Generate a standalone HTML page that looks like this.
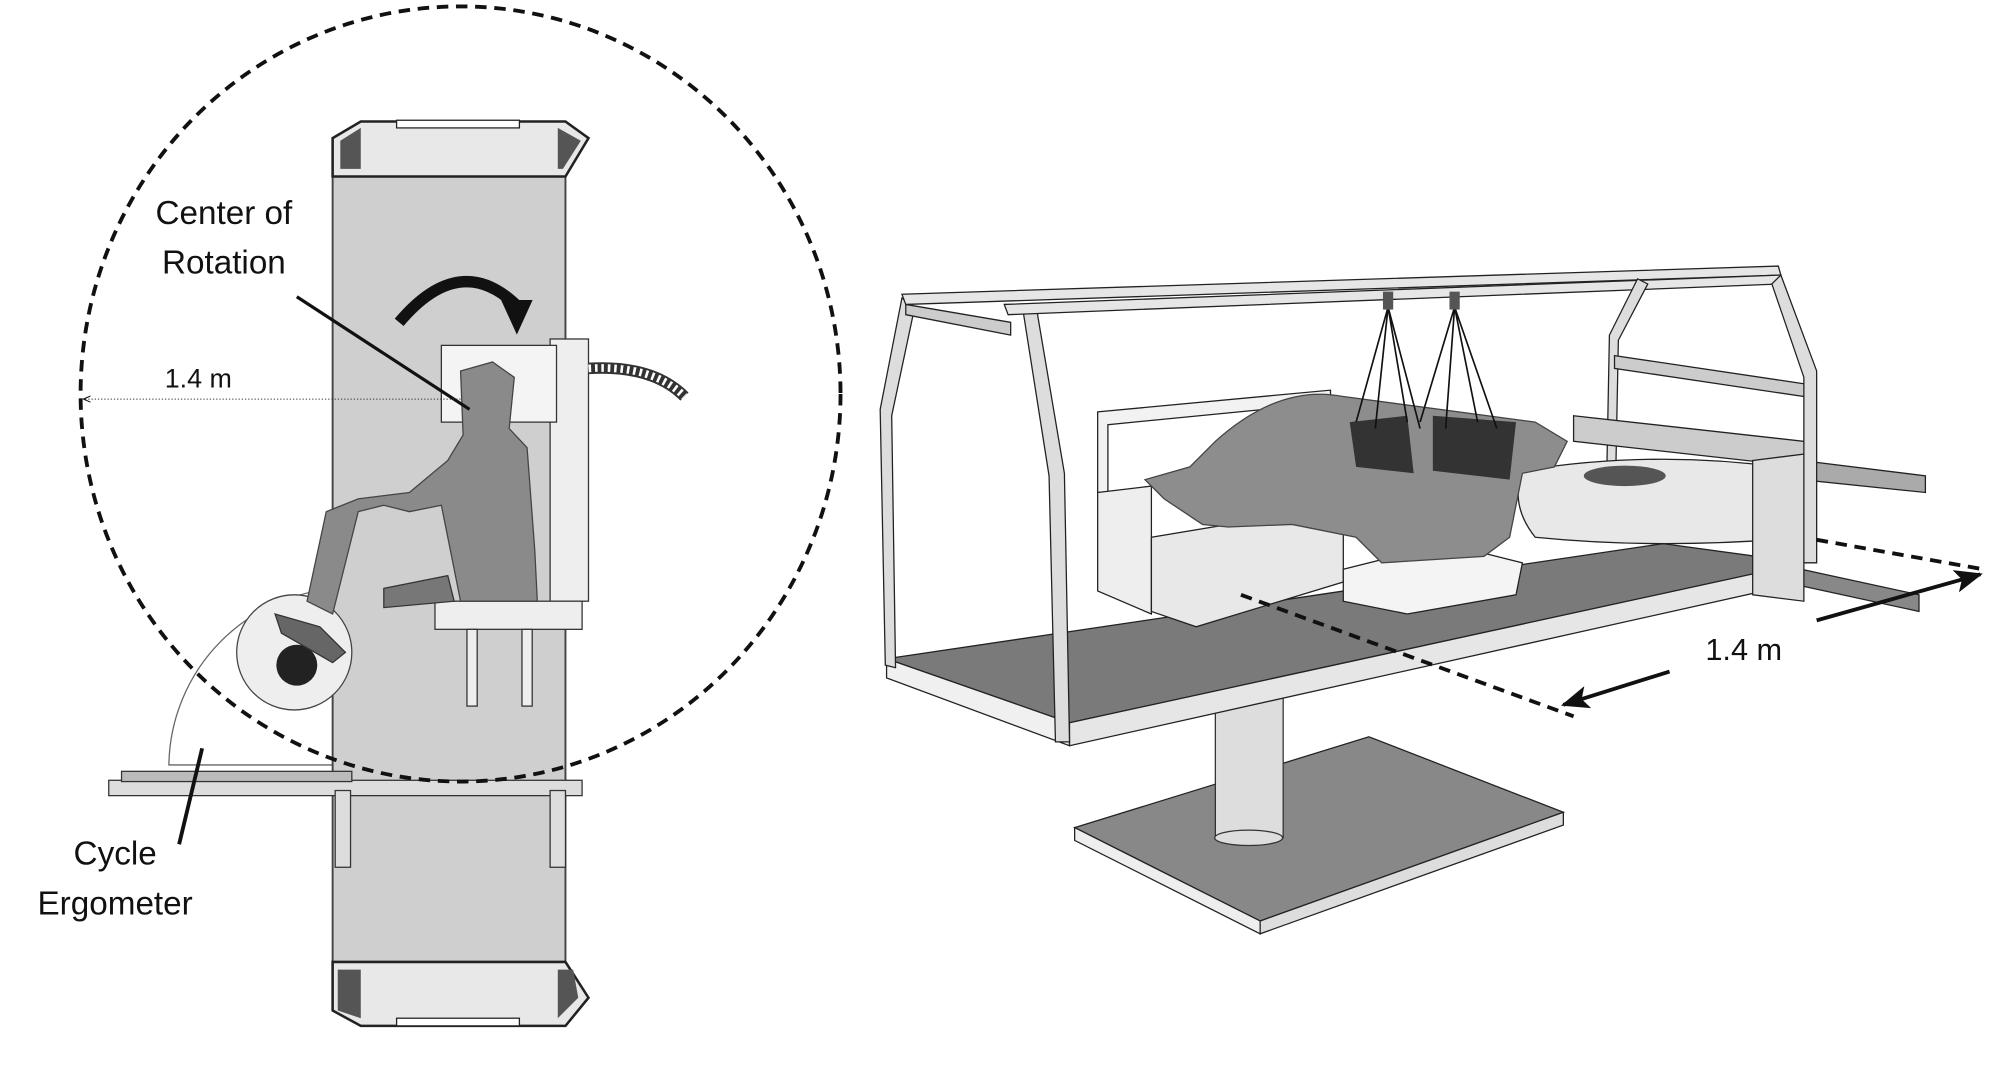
<!DOCTYPE html>
<html><head><meta charset="utf-8"><style>
html,body{margin:0;padding:0;background:#fff;}
svg{display:block}
text{font-family:"Liberation Sans","DejaVu Sans",sans-serif;fill:#111}
</style></head><body>
<svg width="2006" height="1086" viewBox="0 0 1568 849" preserveAspectRatio="none" xmlns="http://www.w3.org/2000/svg">
<defs>
<marker id="ah" markerUnits="userSpaceOnUse" markerWidth="22" markerHeight="18" refX="20" refY="9" orient="auto"><path d="M0,0 L22,9 L0,18 L5,9 z" fill="#111"/></marker>
<marker id="ahs" markerWidth="8" markerHeight="8" refX="6" refY="4" orient="auto"><path d="M0,1 L7,4 L0,7" fill="none" stroke="#111"/></marker>
</defs>
<!-- LEFT FIGURE -->
<path d="M132,598 A140,140 0 0 1 272,460 L272,598 Z" fill="#fff" stroke="#666" stroke-width="1"/>
<rect x="260" y="130" width="182" height="630" fill="#cfcfcf" stroke="#444" stroke-width="1.5"/>
<path d="M260,108 L282,95 L442,95 L460,108 L442,138 L260,138 Z" fill="#e8e8e8" stroke="#222" stroke-width="2"/>
<rect x="310" y="94" width="96" height="6" fill="#fff" stroke="#222"/>
<path d="M266,110 L282,100 L282,132 L266,132Z" fill="#555"/>
<path d="M436,100 L454,110 L440,132 L436,132Z" fill="#555"/>
<path d="M260,752 L442,752 L460,780 L442,802 L282,802 L260,790 Z" fill="#e8e8e8" stroke="#222" stroke-width="2"/>
<rect x="310" y="796" width="96" height="6" fill="#fff" stroke="#222"/>
<path d="M264,758 L282,758 L282,796 L264,790Z" fill="#555"/>
<path d="M436,758 L448,758 L452,780 L436,796Z" fill="#555"/>
<rect x="85" y="610" width="370" height="12" fill="#ddd" stroke="#333"/>
<rect x="95" y="603" width="180" height="8" fill="#bbb" stroke="#333"/>
<rect x="262" y="618" width="12" height="60" fill="#ddd" stroke="#333"/>
<rect x="430" y="618" width="12" height="60" fill="#ddd" stroke="#333"/>
<circle cx="230" cy="510" r="45" fill="#eee" stroke="#444"/>
<circle cx="232" cy="520" r="16" fill="#222"/>
<rect x="430" y="265" width="30" height="205" fill="#eee" stroke="#333"/>
<rect x="345" y="270" width="90" height="60" fill="#f4f4f4" stroke="#333"/>
<rect x="340" y="470" width="115" height="22" fill="#eee" stroke="#333"/>
<rect x="365" y="492" width="8" height="60" fill="#eee" stroke="#333"/>
<rect x="408" y="492" width="8" height="60" fill="#eee" stroke="#333"/>
<path d="M460,288 Q510,285 535,310" fill="none" stroke="#333" stroke-width="9"/>
<path d="M460,288 Q510,285 535,310" fill="none" stroke="#fff" stroke-width="6" stroke-dasharray="2 3"/>
<path d="M360,290 L385,283 L402,295 L398,335 L412,350 L418,430 L420,470 L360,470 L352,430 L345,395 L320,400 L300,395 L280,400 L260,480 L240,470 L255,400 L280,390 L320,385 L350,360 L362,340 Z" fill="#8a8a8a" stroke="#444"/>
<path d="M215,480 L250,490 L270,510 L260,518 L220,495 Z" fill="#666" stroke="#333"/>
<path d="M300,460 L350,450 L355,470 L300,475Z" fill="#777" stroke="#333"/>
<ellipse cx="360" cy="308" rx="297" ry="303" fill="none" stroke="#111" stroke-width="3" stroke-dasharray="9 6"/>
<path d="M312,252 Q360,195 405,240" fill="none" stroke="#111" stroke-width="9"/>
<path d="M394,236 L414,236 L404,258 Z" fill="#111" stroke="#111" stroke-width="3"/>
<line x1="232" y1="232" x2="367" y2="320" stroke="#111" stroke-width="2.5"/>
<line x1="360" y1="312" x2="66" y2="312" stroke="#333" stroke-width="0.8" stroke-dasharray="1 1.5" marker-end="url(#ahs)"/>
<text x="175" y="175" font-size="26" text-anchor="middle">Center of</text>
<text x="175" y="214" font-size="26" text-anchor="middle">Rotation</text>
<text x="155" y="303" font-size="21" text-anchor="middle">1.4 m</text>
<line x1="158" y1="585" x2="140" y2="660" stroke="#111" stroke-width="3"/>
<text x="90" y="676" font-size="26" text-anchor="middle">Cycle</text>
<text x="90" y="715" font-size="26" text-anchor="middle">Ergometer</text>

<!-- RIGHT FIGURE -->
<path d="M840,647 L1070,576 L1222,635 L985,720 Z" fill="#888" stroke="#222"/>
<path d="M840,647 L985,720 L985,730 L840,657 Z" fill="#eee" stroke="#222"/>
<path d="M985,720 L1222,635 L1222,645 L985,730 Z" fill="#ddd" stroke="#222"/>
<rect x="950" y="540" width="53" height="115" fill="#ddd" stroke="#333"/>
<ellipse cx="976" cy="655" rx="26.5" ry="6" fill="#ddd" stroke="#333"/>
<path d="M693,515 L1300,425 L1410,440 L836,565 Z" fill="#7a7a7a" stroke="#222"/>
<path d="M693,515 L836,565 L836,583 L693,530 Z" fill="#f0f0f0" stroke="#222"/>
<path d="M836,565 L1410,440 L1410,455 L836,583 Z" fill="#e6e6e6" stroke="#222"/>
<path d="M1408,360 L1505,372 L1505,385 L1408,375Z" fill="#aaa" stroke="#222"/>
<path d="M1408,445 L1500,465 L1500,478 L1408,458Z" fill="#888" stroke="#222"/>
<path d="M705,233 L688,320 L692,520 L700,522 L697,325 L715,240 Z" fill="#ddd" stroke="#222"/>
<path d="M785,238 L810,240 L832,370 L836,580 L825,580 L820,372 L800,245Z" fill="#ddd" stroke="#222"/>
<path d="M708,238 L790,252 L790,262 L708,246Z" fill="#ccc" stroke="#222"/>
<path d="M705,230 L1390,208 L1392,215 L708,238 Z" fill="#e6e6e6" stroke="#222"/>
<path d="M785,238 L1392,215 L1392,222 L788,246 Z" fill="#e6e6e6" stroke="#222"/>
<path d="M1280,218 L1258,262 L1255,420 L1262,420 L1265,266 L1288,222Z" fill="#ddd" stroke="#222"/>
<path d="M1392,215 L1420,290 L1420,440 L1410,440 L1410,295 L1385,222Z" fill="#ddd" stroke="#222"/>
<path d="M1262,278 L1410,300 L1410,310 L1262,288Z" fill="#ccc" stroke="#222"/>
<path d="M858,322 L1040,305 L1040,315 L866,332 L866,385 L858,385Z" fill="#f2f2f2" stroke="#222"/>
<path d="M858,385 L900,380 L900,480 L858,462Z" fill="#eee" stroke="#222"/>
<path d="M900,420 L1050,395 L1050,455 L935,490 L900,478Z" fill="#e8e8e8" stroke="#222"/>
<path d="M1050,445 L1130,425 L1190,440 L1185,465 L1100,480 L1050,470Z" fill="#f4f4f4" stroke="#222"/>
<path d="M1190,368 Q1300,350 1410,368 L1410,420 Q1300,430 1200,420 Q1180,395 1190,368Z" fill="#e8e8e8" stroke="#222"/>
<ellipse cx="1270" cy="372" rx="32" ry="8" fill="#555"/>
<path d="M1230,325 L1410,345 L1410,365 L1230,345Z" fill="#ccc" stroke="#222"/>
<path d="M1370,360 L1410,355 L1410,470 L1370,465Z" fill="#ddd" stroke="#222"/>
<path d="M950,345 Q1000,300 1050,310 L1200,330 L1225,345 L1215,365 L1190,370 L1180,420 L1160,435 L1080,440 L1060,420 L1010,410 L960,412 L940,410 L910,390 L895,375 L930,365 Z" fill="#8d8d8d" stroke="#444"/>
<path d="M1055,330 L1100,325 L1105,370 L1060,365Z" fill="#333"/>
<path d="M1120,325 L1185,330 L1180,375 L1120,368Z" fill="#333"/>
<g stroke="#111" stroke-width="1.3" fill="none">
<path d="M1085,240 L1060,330 M1085,240 L1075,335 M1085,240 L1100,330 M1085,240 L1110,335"/>
<path d="M1137,240 L1110,330 M1137,240 L1130,335 M1137,240 L1155,330 M1137,240 L1170,335"/>
</g>
<rect x="1081" y="228" width="8" height="14" fill="#555"/>
<rect x="1133" y="228" width="8" height="14" fill="#555"/>
<line x1="970" y1="465" x2="1230" y2="560" stroke="#111" stroke-width="3" stroke-dasharray="9 6"/>
<line x1="1420" y1="422" x2="1550" y2="445" stroke="#111" stroke-width="3" stroke-dasharray="9 6"/>
<line x1="1305" y1="525" x2="1222" y2="551" stroke="#111" stroke-width="3" marker-end="url(#ah)"/>
<line x1="1420" y1="485" x2="1548" y2="449" stroke="#111" stroke-width="3" marker-end="url(#ah)"/>
<text x="1363" y="516" font-size="24" text-anchor="middle">1.4 m</text>
</svg>
</body></html>
